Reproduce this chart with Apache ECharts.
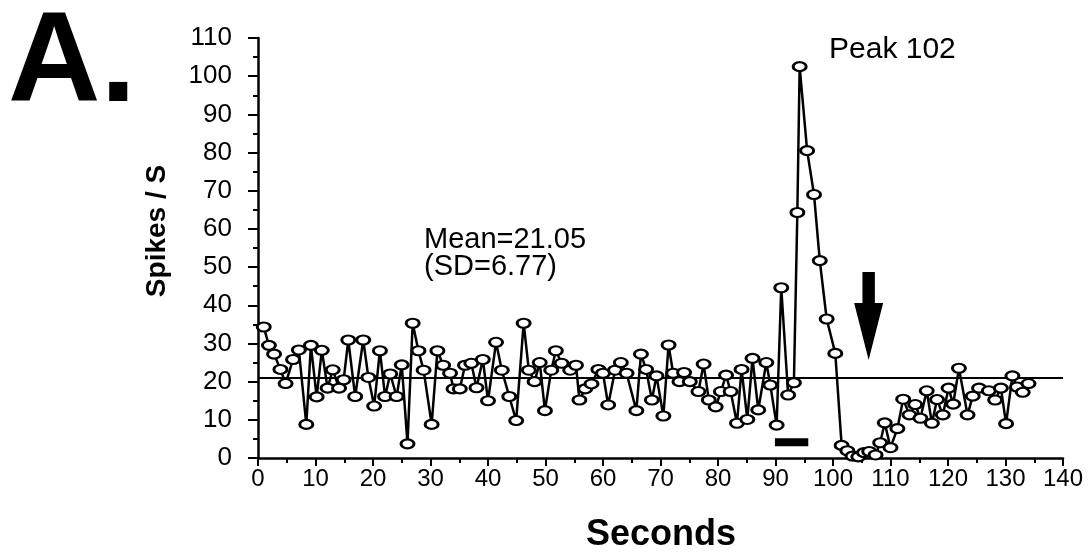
<!DOCTYPE html>
<html><head><meta charset="utf-8">
<script src="https://cdn.jsdelivr.net/npm/echarts@6/dist/echarts.min.js"></script>
<style>html,body{margin:0;padding:0;background:#fff}#c{width:1091px;height:554px}</style>
</head><body><div id="c"></div>
<script>
// ---- data ----
const seconds = [
  1.0,1.9,2.8,3.9,4.8,6.1,7.1,8.4,9.2,10.2,11.1,12.1,13.0,14.1,14.9,15.7,16.9,18.3,19.2,20.2,
  21.2,22.1,23.0,24.1,25.0,26.0,26.9,27.9,28.8,30.2,31.2,32.2,33.4,34.0,35.1,36.0,37.1,38.0,39.1,40.0,
  41.4,42.4,43.7,44.9,46.2,47.1,48.1,49.0,49.9,51.0,51.8,52.8,54.3,55.3,55.9,56.9,58.0,59.2,60.0,60.9,
  62.1,63.1,64.1,65.8,66.6,67.5,68.5,69.3,70.5,71.4,72.2,73.3,74.1,75.1,76.6,77.5,78.4,79.6,80.5,81.4,
  82.2,83.3,84.1,85.1,86.0,87.0,88.4,89.1,90.2,91.0,92.2,93.2,93.8,94.2,95.5,96.7,97.7,98.9,100.4,101.5,
  102.5,103.4,104.4,105.4,106.3,107.4,108.2,109.0,110.0,111.2,112.2,113.3,114.3,115.2,116.3,117.2,118.1,119.1,120.1,120.9,
  121.9,123.4,124.3,125.4,127.1,128.2,129.2,130.1,131.2,132.0,133.0,134.0
];
const spikesPerSec = [
  34.3,29.5,27.2,23.2,19.5,25.8,28.3,8.8,29.5,16.0,28.2,18.3,23.1,18.3,20.5,30.9,16.1,30.9,21.1,13.6,
  28.1,16.1,22.0,16.1,24.4,3.7,35.3,28.1,23.0,8.8,28.1,24.3,22.2,18.1,18.1,24.3,24.8,18.4,25.8,15.0,
  30.3,23.0,16.1,9.8,35.3,23.0,20.0,25.0,12.4,23.0,28.1,24.8,23.0,24.3,15.2,18.1,19.4,23.2,22.2,13.9,
  23.0,25.0,22.2,12.4,27.2,23.2,15.2,21.5,11.0,29.6,22.2,20.0,22.4,20.0,17.4,24.6,15.2,13.4,17.4,21.7,
  17.4,9.1,23.2,10.1,26.1,12.6,25.0,19.1,8.6,44.6,16.5,19.7,64.3,102.5,80.5,69.0,51.7,36.4,27.4,3.3,
  1.9,0.5,0.3,1.4,1.7,0.8,4.0,9.2,2.7,7.7,15.4,11.3,14.0,10.4,17.6,9.1,15.3,11.3,18.3,14.1,
  23.5,11.3,16.2,18.3,17.6,15.2,18.3,9.0,21.5,18.6,17.2,19.5
];
const meanRate = 21.05;
const sdRate = 6.77;
const peakRate = 102;
const xTickMin = 0, xTickMax = 140, xTickStep = 10;
const yTickMin = 0, yTickMax = 110, yTickStep = 10;
const stimulusWindow = [89.9, 95.7];
const stimulusLevel = 4.1;
const arrowAt = [106.2, 37.2];

const points = seconds.map((t, i) => [t, spikesPerSec[i]]);
const FONT = 'Liberation Sans, Arial, sans-serif';

const chart = echarts.init(document.getElementById('c'), null, {renderer: 'canvas'});
chart.setOption({
  animation: false,
  backgroundColor: '#fff',
  grid: {left: 258, right: 28, top: 38, bottom: 96},
  xAxis: {
    type: 'value', min: xTickMin, max: xTickMax, interval: xTickStep,
    axisLine: {show: true, lineStyle: {color: '#000', width: 2.5}},
    axisTick: {show: true, length: 8, lineStyle: {color: '#000', width: 2}},
    minorTick: {show: true, splitNumber: 2, length: 5, lineStyle: {color: '#000', width: 2}},
    splitLine: {show: false},
    axisLabel: {color: '#000', fontFamily: FONT, fontSize: 24, margin: 9}
  },
  yAxis: {
    type: 'value', min: yTickMin, max: yTickMax, interval: yTickStep,
    axisLine: {show: true, lineStyle: {color: '#000', width: 2.5}},
    axisTick: {show: true, length: 10, lineStyle: {color: '#000', width: 2}},
    minorTick: {show: true, splitNumber: 2, length: 5, lineStyle: {color: '#000', width: 2}},
    splitLine: {show: false},
    axisLabel: {color: '#000', fontFamily: FONT, fontSize: 26, margin: 26}
  },
  series: [
    {
      type: 'line', data: points, z: 5,
      symbol: 'circle', symbolSize: [13, 9],
      itemStyle: {color: '#fff', borderColor: '#000', borderWidth: 2.5},
      lineStyle: {color: '#000', width: 2.5},
      markLine: {
        silent: true, symbol: ['none', 'none'],
        label: {show: false},
        lineStyle: {color: '#000', width: 2, type: 'solid'},
        data: [{yAxis: meanRate}]
      }
    },
    {
      type: 'line', symbol: 'none', z: 4,
      data: [[stimulusWindow[0], stimulusLevel], [stimulusWindow[1], stimulusLevel]],
      lineStyle: {color: '#000', width: 8}
    },
    {
      type: 'scatter', z: 6,
      data: [arrowAt],
      symbol: 'path://M8,0 L20,0 L20,31 L28,31 L14,88 L0,31 L8,31 Z',
      symbolSize: [29, 88],
      itemStyle: {color: '#000', opacity: 1}
    }
  ],
  graphic: [
    {type: 'text', left: 8, top: 2, style: {text: 'A.', font: 'bold 128px ' + FONT, fill: '#000'}},
    {type: 'text', x: 157, y: 231, rotation: Math.PI / 2,
      style: {text: 'Spikes / S', font: 'bold 28px ' + FONT, fill: '#000', align: 'center', verticalAlign: 'middle'}},
    {type: 'text', x: 661, y: 535,
      style: {text: 'Seconds', font: 'bold 36px ' + FONT, fill: '#000', align: 'center', verticalAlign: 'middle'}},
    {type: 'text', x: 829, y: 50,
      style: {text: 'Peak ' + peakRate, font: '30px ' + FONT, fill: '#000', align: 'left', verticalAlign: 'middle'}},
    {type: 'text', x: 424, y: 240,
      style: {text: 'Mean=' + meanRate.toFixed(2), font: '29px ' + FONT, fill: '#000', align: 'left', verticalAlign: 'middle'}},
    {type: 'text', x: 424, y: 267,
      style: {text: '(SD=' + sdRate.toFixed(2) + ')', font: '29px ' + FONT, fill: '#000', align: 'left', verticalAlign: 'middle'}}
  ]
});
</script></body></html>
